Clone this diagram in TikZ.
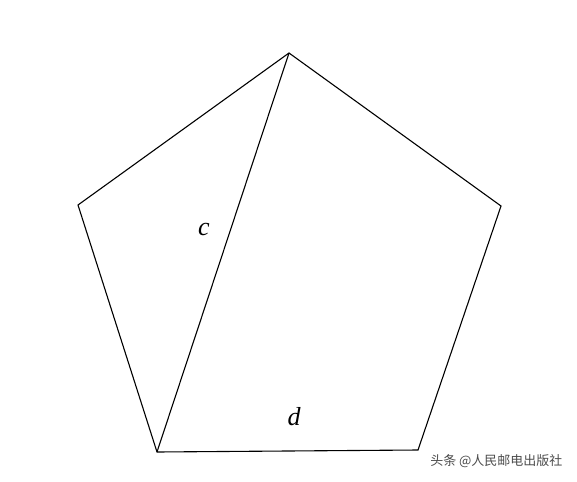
\documentclass[tikz,border=0pt]{standalone}
\usepackage{fontspec}
\setmainfont{Liberation Serif}
\newfontfamily\cjk{Noto Sans CJK SC}
\begin{document}
\begin{tikzpicture}[x=1pt, y=-1pt]
        \useasboundingbox (0,0) rectangle (577,481);
        \foreach \name/\x/\y in {
            top/289/53,
            rgt/501/206,
            brt/418/450,
            blt/157/452,
            lft/78/205
        } {
            \coordinate (\name) at (\x,\y);
        }
        \draw[line width=1.1pt] (top) -- (rgt) -- (brt) -- (blt) -- (lft) -- cycle;
        \draw[line width=1.1pt] (top) -- (blt);
        \node (c) at (204,229) {\fontsize{26}{26}\selectfont\itshape c};
        \node (d) at (294,417) {\fontsize{26}{26}\selectfont\itshape d};
        \node[anchor=east, text=black!70] (mark) at (566,461) {\fontsize{13}{13}\selectfont\cjk 头条 @人民邮电出版社};
    \end{tikzpicture}
\end{document}
